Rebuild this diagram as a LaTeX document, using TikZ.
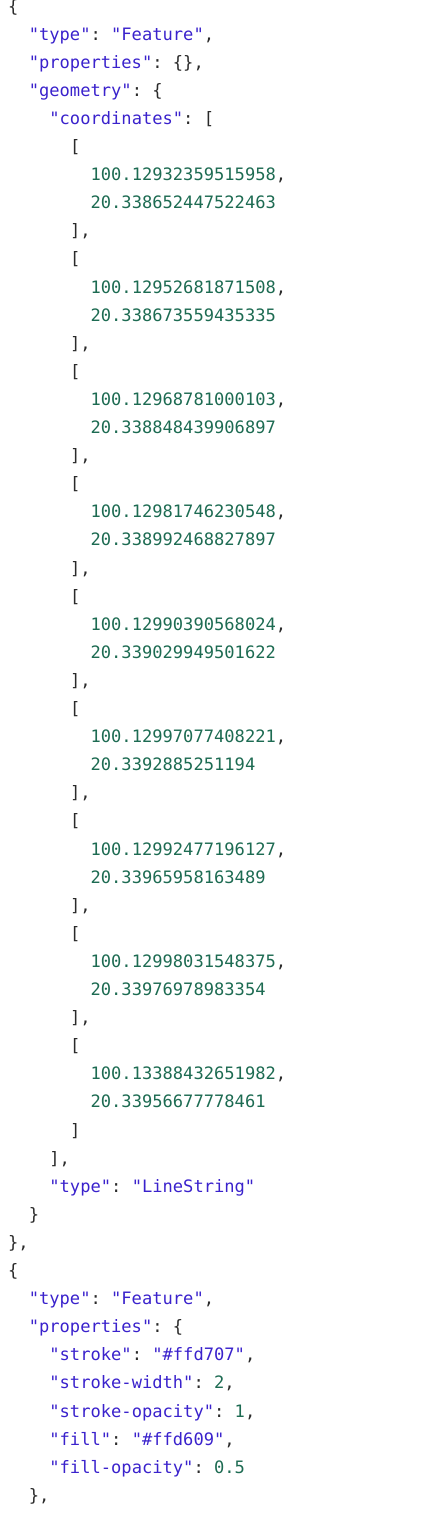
\documentclass[tikz,border=0pt]{standalone}
\usepackage{xcolor}
\usepackage{fontspec}
\setmonofont{DejaVu Sans Mono}
\usepackage{tikz}
\usetikzlibrary{positioning}

\definecolor{keyblue}{HTML}{3A22CC}
\definecolor{numgreen}{HTML}{1D6B52}
\definecolor{punct}{HTML}{2A2A2A}
\newcommand{\codefont}{\ttfamily\fontsize{17.1pt}{20pt}\selectfont}
\newcommand{\jstr}[1]{\textcolor{keyblue}{"#1"}}
\newcommand{\jnum}[1]{\textcolor{numgreen}{#1}}

\begin{document}
\begin{tikzpicture}[x=10.3pt,y=-28.1pt,
  codeline/.style={anchor=base west,inner sep=0pt,text=punct,font=\codefont}]
  \useasboundingbox (-8pt,12pt) rectangle (424pt,-1501pt);
  % first feature
  \node[codeline] (open1) at (0,0) {\{};
  \node[codeline] (type1) at (2,1) {\jstr{type}: \jstr{Feature},};
  \node[codeline] (prop1) at (2,2) {\jstr{properties}: \{\},};
  \node[codeline] (geom) at (2,3) {\jstr{geometry}: \{};
  \node[codeline] (coords) at (4,4) {\jstr{coordinates}: [};
  \foreach \i/\lon/\lat in {0/100.12932359515958/20.338652447522463,
      1/100.12952681871508/20.338673559435335,
      2/100.12968781000103/20.338848439906897,
      3/100.12981746230548/20.338992468827897,
      4/100.12990390568024/20.339029949501622,
      5/100.12997077408221/20.3392885251194,
      6/100.12992477196127/20.33965958163489,
      7/100.12998031548375/20.33976978983354,
      8/100.13388432651982/20.33956677778461}{
    \node[codeline] (open\i) at (6,5+4*\i) {[};
    \node[codeline] (lon\i) at (8,6+4*\i) {\jnum{\lon},};
    \node[codeline] (lat\i) at (8,7+4*\i) {\jnum{\lat}};
    \node[codeline] (close\i) at (6,8+4*\i) {]\ifnum\i<8,\fi};
  }
  \node[codeline] (endcoords) at (4,41) {],};
  \node[codeline] (geomtype) at (4,42) {\jstr{type}: \jstr{LineString}};
  \node[codeline] (endgeom) at (2,43) {\}};
  \node[codeline] (end1) at (0,44) {\},};
  % second feature
  \node[codeline] (open2) at (0,45) {\{};
  \node[codeline] (type2) at (2,46) {\jstr{type}: \jstr{Feature},};
  \node[codeline] (prop2) at (2,47) {\jstr{properties}: \{};
  \node[codeline] (stroke) at (4,48) {\jstr{stroke}: \jstr{\#ffd707},};
  \node[codeline] (swidth) at (4,49) {\jstr{stroke-width}: \jnum{2},};
  \node[codeline] (sopac) at (4,50) {\jstr{stroke-opacity}: \jnum{1},};
  \node[codeline] (fill) at (4,51) {\jstr{fill}: \jstr{\#ffd609},};
  \node[codeline] (fopac) at (4,52) {\jstr{fill-opacity}: \jnum{0.5}};
  \node[codeline] (endprop2) at (2,53) {\},};
\end{tikzpicture}
\end{document}
